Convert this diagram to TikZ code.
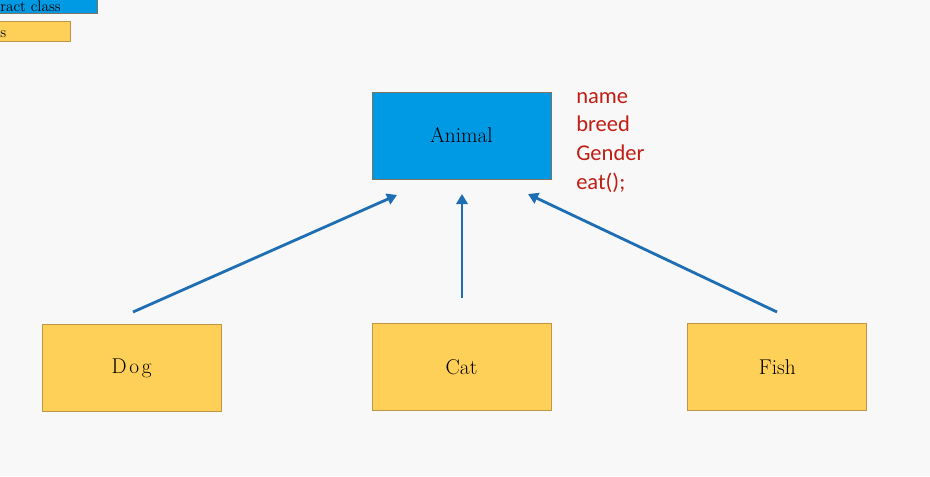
\documentclass[tikz,border=0pt]{standalone}
\usepackage{fontspec}
\newfontfamily\attrfont{Carlito}
\usetikzlibrary{positioning,arrows.meta}
\newlength\pxu
\setlength\pxu{0.75pt}
\definecolor{pagebg}{RGB}{248,248,248}
\definecolor{absblue}{RGB}{0,153,228}
\definecolor{absedge}{RGB}{125,115,95}
\definecolor{clsyellow}{RGB}{255,208,88}
\definecolor{clsedge}{RGB}{190,150,70}
\definecolor{arrowblue}{RGB}{30,110,180}
\definecolor{attrred}{RGB}{192,30,20}

\begin{document}
\begin{tikzpicture}[
    x=0.75pt, y=-0.75pt,
    classbox/.style={draw=clsedge, fill=clsyellow, line width=0.6pt,
      minimum width=179\pxu, minimum height=87\pxu, font=\fontsize{16}{19}\selectfont},
    abstractbox/.style={classbox, draw=absedge, fill=absblue},
    legendbox/.style={line width=0.6pt, minimum width=118\pxu, anchor=south east},
    inherit/.style={draw=arrowblue, line width=2.1pt,
      -{Triangle[length=7.5pt, width=8.5pt]}}
    ]

    \useasboundingbox (0,0) rectangle (930,476);
    \clip (0,0) rectangle (930,476);
    \fill[pagebg] (0,0) rectangle (930,476);

    % legend, cut at the left edge
    \node[legendbox, draw=absedge, fill=absblue, minimum height=16\pxu] (abslegend) at (98,14) {};
    \node[anchor=base west, inner sep=0, font=\fontsize{11.4}{13}\selectfont] (abslabel) at (0,11) {ract class};
    \node[legendbox, draw=clsedge, fill=clsyellow, minimum width=91\pxu, minimum height=20\pxu] (clslegend) at (71,42) {};
    \node[anchor=base west, inner sep=0, font=\fontsize{11.4}{13}\selectfont] (clslabel) at (0,37) {s};

    % classes
    \node[abstractbox] (animal) at (461.5,135.5) {Animal};
    \node[classbox, below=144\pxu of animal] (cat) {Cat};
    \node[classbox, left=150\pxu of cat, yshift=-1\pxu] (dog) {D\kern2pt o\kern2pt g};
    \node[classbox, right=136\pxu of cat] (fish) {Fish};

    \node[anchor=base west, inner sep=0, align=left, text=attrred,
      font=\attrfont\fontsize{16.9}{21.4}\selectfont] (attrs) at (576,189)
      {name\\breed\\Gender\\eat();};

    % inheritance arrows
    \coordinate (dogtail) at (133,312);
    \coordinate (dogtip) at (397,195);
    \coordinate (cattail) at (462,298);
    \coordinate (cattip) at (462,194);
    \coordinate (fishtail) at (777,312);
    \coordinate (fishtip) at (528,194);
    \draw[inherit] (dogtail) -- (dogtip);
    \draw[inherit] (cattail) -- (cattip);
    \draw[inherit] (fishtail) -- (fishtip);

  \end{tikzpicture}
\end{document}
